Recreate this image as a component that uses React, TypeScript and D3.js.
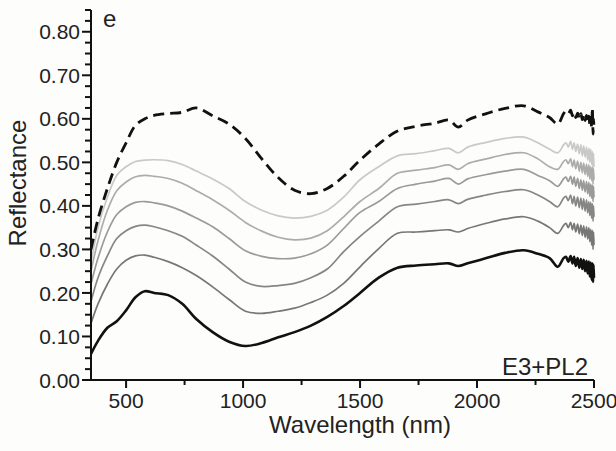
import React from "react";
import * as d3 from "d3";

const wavelengths = [350, 380, 420, 460, 500, 540, 580, 620, 680, 740, 800, 870, 940, 1010, 1080, 1150, 1220, 1290, 1360, 1430, 1500, 1580, 1660, 1740, 1820, 1880, 1920, 1960, 2040, 2120, 2200, 2260, 2310, 2345,
  2370, 2380, 2390, 2400, 2408, 2415, 2422, 2430, 2437, 2444, 2450, 2456, 2462, 2468, 2473, 2478, 2482, 2486, 2490, 2493, 2496, 2498, 2500];

const dashedTop = [0.30, 0.37, 0.44, 0.50, 0.545, 0.585, 0.600, 0.608, 0.612, 0.615, 0.625, 0.607, 0.588, 0.555, 0.508, 0.465, 0.436, 0.428, 0.44, 0.468, 0.505, 0.542, 0.572, 0.583, 0.59, 0.597, 0.581, 0.597, 0.612, 0.624, 0.630, 0.616, 0.603, 0.588,
  0.612, 0.618, 0.612, 0.62, 0.607, 0.615, 0.603, 0.613, 0.600, 0.612, 0.598, 0.610, 0.596, 0.608, 0.592, 0.606, 0.588, 0.604, 0.580, 0.625, 0.565, 0.60, 0.575];
const gray1 = [0.27, 0.35, 0.42, 0.47, 0.49, 0.502, 0.505, 0.506, 0.504, 0.495, 0.48, 0.462, 0.44, 0.41, 0.39, 0.377, 0.372, 0.376, 0.39, 0.42, 0.46, 0.49, 0.515, 0.52, 0.527, 0.532, 0.522, 0.535, 0.546, 0.555, 0.558, 0.545, 0.53, 0.522,
  0.54, 0.545, 0.535, 0.548, 0.530, 0.545, 0.525, 0.542, 0.52, 0.54, 0.515, 0.538, 0.512, 0.535, 0.505, 0.532, 0.50, 0.53, 0.495, 0.525, 0.485, 0.52, 0.49];
const gray2 = [0.25, 0.32, 0.39, 0.435, 0.455, 0.467, 0.47, 0.468, 0.463, 0.452, 0.435, 0.414, 0.39, 0.362, 0.342, 0.328, 0.322, 0.326, 0.343, 0.375, 0.41, 0.44, 0.475, 0.482, 0.488, 0.494, 0.484, 0.497, 0.508, 0.518, 0.522, 0.508, 0.49, 0.484,
  0.502, 0.506, 0.497, 0.508, 0.49, 0.505, 0.485, 0.503, 0.48, 0.5, 0.476, 0.498, 0.472, 0.496, 0.468, 0.494, 0.462, 0.49, 0.458, 0.488, 0.45, 0.485, 0.46];
const gray3 = [0.22, 0.28, 0.34, 0.38, 0.398, 0.408, 0.41, 0.407, 0.4, 0.388, 0.372, 0.352, 0.325, 0.297, 0.284, 0.279, 0.28, 0.29, 0.31, 0.348, 0.385, 0.41, 0.44, 0.45, 0.457, 0.463, 0.45, 0.462, 0.472, 0.48, 0.484, 0.47, 0.458, 0.445,
  0.462, 0.466, 0.456, 0.468, 0.45, 0.466, 0.445, 0.463, 0.44, 0.46, 0.436, 0.458, 0.432, 0.456, 0.428, 0.454, 0.422, 0.45, 0.418, 0.448, 0.41, 0.445, 0.42];
const gray4 = [0.18, 0.235, 0.285, 0.325, 0.343, 0.353, 0.356, 0.352, 0.343, 0.33, 0.31, 0.285, 0.255, 0.225, 0.215, 0.217, 0.222, 0.235, 0.255, 0.295, 0.33, 0.365, 0.398, 0.404, 0.41, 0.414, 0.405, 0.415, 0.425, 0.433, 0.437, 0.425, 0.41, 0.398,
  0.418, 0.422, 0.412, 0.425, 0.405, 0.422, 0.40, 0.42, 0.396, 0.418, 0.392, 0.416, 0.388, 0.414, 0.384, 0.41, 0.378, 0.408, 0.372, 0.405, 0.365, 0.40, 0.375];
const gray5 = [0.13, 0.175, 0.22, 0.255, 0.275, 0.285, 0.287, 0.282, 0.272, 0.258, 0.24, 0.214, 0.185, 0.158, 0.153, 0.158, 0.165, 0.178, 0.195, 0.222, 0.26, 0.302, 0.337, 0.34, 0.343, 0.345, 0.34, 0.348, 0.36, 0.37, 0.375, 0.365, 0.35, 0.337,
  0.355, 0.36, 0.35, 0.362, 0.345, 0.36, 0.34, 0.358, 0.336, 0.356, 0.332, 0.354, 0.328, 0.352, 0.324, 0.35, 0.318, 0.346, 0.31, 0.344, 0.30, 0.34, 0.31];
const blackBottom = [0.06, 0.09, 0.12, 0.135, 0.16, 0.19, 0.204, 0.2, 0.195, 0.175, 0.14, 0.11, 0.088, 0.078, 0.085, 0.098, 0.11, 0.125, 0.145, 0.17, 0.2, 0.235, 0.258, 0.263, 0.266, 0.268, 0.262, 0.268, 0.28, 0.292, 0.298, 0.29, 0.28, 0.26,
  0.28, 0.283, 0.272, 0.285, 0.268, 0.283, 0.262, 0.28, 0.258, 0.278, 0.255, 0.276, 0.25, 0.274, 0.245, 0.272, 0.238, 0.27, 0.23, 0.268, 0.225, 0.265, 0.235];

const xTicks = [500, 1000, 1500, 2000, 2500];
const xMinorTicks = [750, 1250, 1750, 2250];
const yTicks = [0, 0.1, 0.2, 0.3, 0.4, 0.5, 0.6, 0.7, 0.8];

const series = [
  { values: gray1, color: "#c9c9c9", width: 1.7, dash: "" },
  { values: gray2, color: "#acacac", width: 1.7, dash: "" },
  { values: gray3, color: "#9a9a9a", width: 1.7, dash: "" },
  { values: gray4, color: "#868686", width: 1.7, dash: "" },
  { values: gray5, color: "#777777", width: 1.7, dash: "" },
  { values: blackBottom, color: "#111111", width: 2.6, dash: "" },
  { values: dashedTop, color: "#111111", width: 2.8, dash: "11 6" },
];

export default function App() {
  const W = 616, H = 451;
  const x = d3.scaleLinear().domain([350, 2500]).range([91, 594]);
  const y = d3.scaleLinear().domain([0, 0.85]).range([380, 10]);
  const font = "'Liberation Sans', Arial, Helvetica, sans-serif";
  const yMinor = d3.range(0, 0.851, 0.025).filter((v) => Math.abs(v * 10 - Math.round(v * 10)) > 1e-6);
  const line = d3
    .line<number>()
    .x((_, i) => x(wavelengths[i]))
    .y((d) => y(d))
    .curve(d3.curveCatmullRom.alpha(0.5));

  return (
    <svg width={W} height={H} style={{ position: "absolute", left: 0, top: 0 }} fontFamily={font}>
      <rect width={W} height={H} fill="#fdfdfb" />
      {series.map((s, i) => (
        <path key={i} d={line(s.values) || ""} fill="none" stroke={s.color} strokeWidth={s.width} strokeDasharray={s.dash || undefined} strokeLinejoin="round" />
      ))}
      <line x1={x(350)} x2={x(2500)} y1={y(0)} y2={y(0)} stroke="#111" strokeWidth={2} />
      <line x1={x(350)} x2={x(350)} y1={y(0)} y2={y(0.85)} stroke="#111" strokeWidth={2} />
      {xTicks.map((t) => (
        <g key={t}>
          <line x1={x(t)} x2={x(t)} y1={y(0)} y2={y(0) + 8} stroke="#111" strokeWidth={2} />
          <text x={x(t)} y={408} textAnchor="middle" fontSize={21} fill="#222">{t}</text>
        </g>
      ))}
      {xMinorTicks.map((t) => (
        <line key={t} x1={x(t)} x2={x(t)} y1={y(0)} y2={y(0) + 5} stroke="#111" strokeWidth={2} />
      ))}
      {yTicks.map((t) => (
        <g key={t}>
          <line x1={x(350) - 9} x2={x(350)} y1={y(t)} y2={y(t)} stroke="#111" strokeWidth={2} />
          <text x={80} y={y(t)} dy="0.36em" textAnchor="end" fontSize={21} fill="#222">{t.toFixed(2)}</text>
        </g>
      ))}
      {yMinor.map((t) => (
        <line key={t} x1={x(350) - 6} x2={x(350)} y1={y(t)} y2={y(t)} stroke="#111" strokeWidth={2} />
      ))}
      <text x={360} y={433} textAnchor="middle" fontSize={24} fill="#222">Wavelength (nm)</text>
      <text transform="translate(26,183) rotate(-90)" textAnchor="middle" fontSize={24} fill="#222">Reflectance</text>
      <text x={103} y={27} fontSize={24} fill="#222">e</text>
      <text x={588} y={375} textAnchor="end" fontSize={24} fill="#222">E3+PL2</text>
    </svg>
  );
}
